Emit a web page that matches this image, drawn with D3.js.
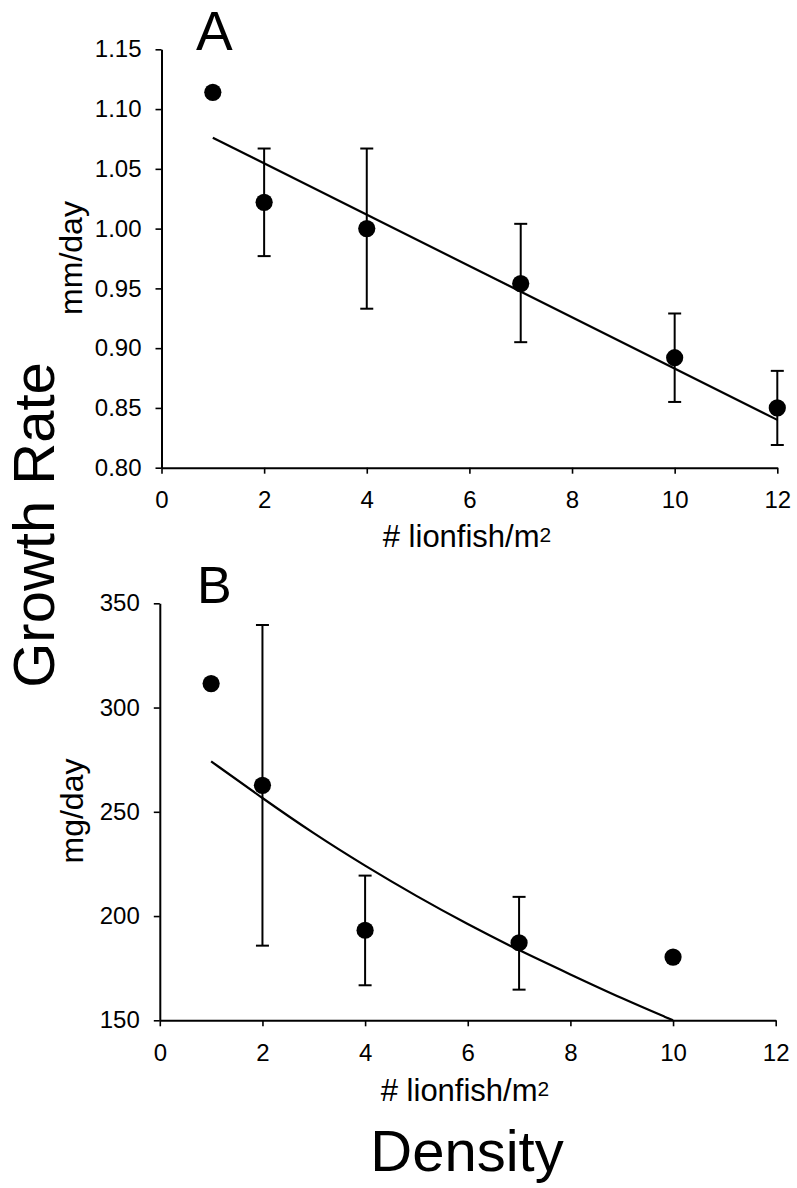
<!DOCTYPE html>
<html>
<head>
<meta charset="utf-8">
<script src="https://cdn.jsdelivr.net/npm/d3@7"></script>
<style>
  html, body { margin: 0; padding: 0; background: #fff; }
  svg { display: block; font-family: "Liberation Sans", Arial, sans-serif; }
</style>
</head>
<body>
<svg id="chart" width="797" height="1188"></svg>
<script>
// ---------- Data ----------
const xTicks = [0, 2, 4, 6, 8, 10, 12];

// Panel A: growth in length (mm/day)
const densityA = [1, 2, 4, 7, 10, 12];
const meanA    = [1.114, 1.022, 1.000, 0.954, 0.892, 0.850];
const upperA   = [null, 1.067, 1.067, 1.004, 0.929, 0.881];
const lowerA   = [null, 0.977, 0.933, 0.905, 0.855, 0.819];
const trendXA  = [1, 12];
const trendYA  = [1.076, 0.840];
const yTicksA  = [0.80, 0.85, 0.90, 0.95, 1.00, 1.05, 1.10, 1.15];

// Panel B: growth in mass (mg/day)
const densityB = [1, 2, 4, 7, 10];
const meanB    = [311.5, 262.7, 193.2, 187.2, 180.3];
const upperB   = [null, 339.6, 219.4, 209.2, null];
const lowerB   = [null, 185.8, 166.8, 164.7, null];
const trendXB  = [1, 2, 3, 4, 5, 6, 7, 8, 9, 10];
const trendYB  = [274.2, 256.5, 239.5, 224, 209.5, 196, 183.5, 172, 160.5, 150];
const yTicksB  = [150, 200, 250, 300, 350];

// ---------- Drawing ----------
const svg = d3.select("#chart");
const INK = "#000";

function panel(cfg) {
  const x = d3.scaleLinear().domain([0, 12]).range(cfg.xRange);
  const y = d3.scaleLinear().domain(cfg.yDomain).range(cfg.yRange);
  const g = svg.append("g");

  // y axis
  const yAx = g.append("g")
    .attr("transform", `translate(${cfg.xRange[0]},0)`)
    .call(d3.axisLeft(y).tickValues(cfg.yTicks).tickFormat(cfg.yFormat)
      .tickSize(6).tickSizeOuter(0).tickPadding(14));
  // x axis
  const xAx = g.append("g")
    .attr("transform", `translate(0,${cfg.yRange[0]})`)
    .call(d3.axisBottom(x).tickValues(xTicks).tickFormat(d3.format("d"))
      .tickSize(6).tickSizeOuter(0).tickPadding(17.5));
  [yAx, xAx].forEach(a => {
    a.selectAll("path.domain").attr("stroke", INK).attr("stroke-width", 2);
    a.selectAll(".tick line").attr("stroke", INK).attr("stroke-width", 1.6);
    a.selectAll(".tick text").attr("fill", INK)
      .style("font-size", "24px").style("font-family", "'Liberation Sans', Arial, sans-serif");
  });

  // error bars
  const eb = cfg.xs.map((d, i) => ({x: d, hi: cfg.hi[i], lo: cfg.lo[i]}))
    .filter(d => d.hi != null);
  const ebG = g.append("g").attr("stroke", INK).attr("stroke-width", 2).attr("fill", "none");
  ebG.selectAll("line.v").data(eb).join("line").attr("class", "v")
    .attr("x1", d => x(d.x)).attr("x2", d => x(d.x))
    .attr("y1", d => y(d.hi)).attr("y2", d => y(d.lo));
  ebG.selectAll("line.t").data(eb).join("line").attr("class", "t")
    .attr("x1", d => x(d.x) - 6.5).attr("x2", d => x(d.x) + 6.5)
    .attr("y1", d => y(d.hi)).attr("y2", d => y(d.hi));
  ebG.selectAll("line.b").data(eb).join("line").attr("class", "b")
    .attr("x1", d => x(d.x) - 6.5).attr("x2", d => x(d.x) + 6.5)
    .attr("y1", d => y(d.lo)).attr("y2", d => y(d.lo));

  // trend line
  const tr = cfg.tx.map((d, i) => [d, cfg.ty[i]]);
  g.append("path").datum(tr)
    .attr("fill", "none").attr("stroke", INK).attr("stroke-width", 2.2)
    .attr("d", d3.line().x(d => x(d[0])).y(d => y(d[1])).curve(d3.curveBasis));

  // points
  g.selectAll("circle").data(cfg.xs.map((d, i) => [d, cfg.mean[i]])).join("circle")
    .attr("cx", d => x(d[0])).attr("cy", d => y(d[1])).attr("r", 8.6).attr("fill", INK);

  // panel letter
  g.append("text").attr("x", cfg.letterX).attr("y", cfg.letterY)
    .style("font-size", cfg.letterSize + "px").attr("fill", INK).text(cfg.letter);

  // y unit label
  g.append("text")
    .attr("transform", `translate(${cfg.unitX},${cfg.unitY}) rotate(-90)`)
    .attr("text-anchor", "middle").style("font-size", "32px").attr("fill", INK)
    .text(cfg.unit);

  // x label with superscript-like 2
  const xl = g.append("text").attr("x", cfg.xLabX).attr("y", cfg.xLabY)
    .attr("text-anchor", "middle").style("font-size", "31px").attr("fill", INK);
  xl.append("tspan").text("# lionfish/m");
  xl.append("tspan").attr("dy", -5).style("font-size", "21px").text("2");
}

panel({
  xRange: [161.5, 777.3], yRange: [467.7, 49.3], yDomain: [0.80, 1.15],
  yTicks: yTicksA, yFormat: d3.format(".2f"),
  xs: densityA, mean: meanA, hi: upperA, lo: lowerA, tx: trendXA, ty: trendYA,
  letter: "A", letterX: 196, letterY: 50, letterSize: 55,
  unit: "mm/day", unitX: 82, unitY: 258,
  xLabX: 467, xLabY: 547
});

panel({
  xRange: [159.8, 775.7], yRange: [1020.3, 603.3], yDomain: [150, 350],
  yTicks: yTicksB, yFormat: d3.format("d"),
  xs: densityB, mean: meanB, hi: upperB, lo: lowerB, tx: trendXB, ty: trendYB,
  letter: "B", letterX: 197, letterY: 603, letterSize: 52,
  unit: "mg/day", unitX: 83, unitY: 811,
  xLabX: 465, xLabY: 1101
});

// Big shared labels
svg.append("text")
  .attr("transform", "translate(54,525) rotate(-90)")
  .attr("text-anchor", "middle").style("font-size", "58px").attr("fill", INK)
  .text("Growth Rate");
svg.append("text")
  .attr("x", 467).attr("y", 1171)
  .attr("text-anchor", "middle").style("font-size", "58px").attr("fill", INK)
  .text("Density");
</script>
</body>
</html>
